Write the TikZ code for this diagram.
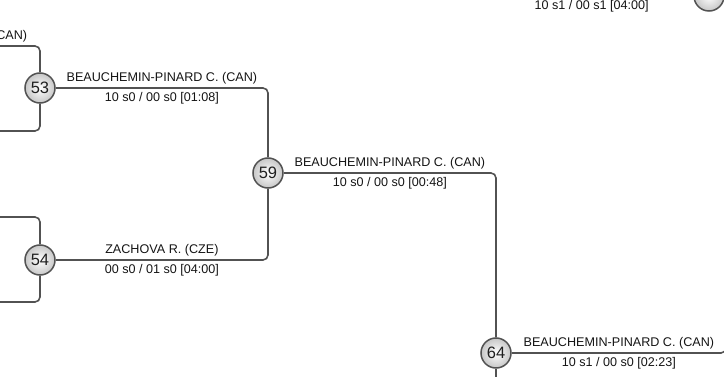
\documentclass[tikz,border=0pt]{standalone}
\usepackage{fontspec}
\setmainfont{Liberation Sans}
\usepackage{xcolor}
\usepackage{tikz}
\usetikzlibrary{calc}

\begin{document}
\begin{tikzpicture}[
  x=1pt, y=-1pt,
  match/.style={circle,draw=black!68,line width=1.5pt,shading=radial,
                inner color=white,outer color=black!22,minimum size=30pt,
                inner sep=0pt,text=black!88,font=\fontsize{16.5}{16.5}\selectfont},
  lbl/.style={font=\fontsize{12.6}{12.6}\selectfont,text=black!92,inner sep=3.5pt},
  wire/.style={line width=1.6pt,draw=black!68,rounded corners=5pt},
]
\useasboundingbox (0,0) rectangle (724,377);
\clip (0,0) rectangle (724,377);

\node[match] (m53) at (40,88)  {53};
\node[match] (m54) at (40,260) {54};
\node[match] (m59) at (268,173) {59};
\node[match] (m64) at (496,353) {64};
\node[match] (m65) at (709,-4) {};

\coordinate (f53a) at (-176,46);
\coordinate (f53b) at (-176,131);
\coordinate (f54a) at (-176,217);
\coordinate (f54b) at (-176,302);
\coordinate (f64a) at (496,400);
\coordinate (f64b) at (726,-30);
\coordinate (f65)  at (490,-4);

\draw[wire] (f53a) -| node[lbl,above,pos=.25]{BEAUCHEMIN-PINARD C. (CAN)} (m53.north);
\draw[wire] (m53.south) |- (f53b);
\draw[wire] (f54a) -| (m54.north);
\draw[wire] (m54.south) |- (f54b);

\draw[wire] (m53.east) -| node[lbl,above,pos=.25]{BEAUCHEMIN-PINARD C. (CAN)}
  node[lbl,below,pos=.25]{10 s0 / 00 s0 [01:08]} (m59.north);
\draw[wire] (m54.east) -| node[lbl,above,pos=.25]{ZACHOVA R. (CZE)}
  node[lbl,below,pos=.25]{00 s0 / 01 s0 [04:00]} (m59.south);
\draw[wire] (m59.east) -| node[lbl,above,pos=.25]{BEAUCHEMIN-PINARD C. (CAN)}
  node[lbl,below,pos=.25]{10 s0 / 00 s0 [00:48]} (m64.north);
\draw[wire] (m64.south) -- (f64a);
\draw[wire] (m64.east) -| node[lbl,above,pos=.25]{BEAUCHEMIN-PINARD C. (CAN)}
  node[lbl,below,pos=.25]{10 s1 / 00 s0 [02:23]} (f64b);
\draw[wire] (m65.west) -- node[lbl,below]{10 s1 / 00 s1 [04:00]} (f65);
\end{tikzpicture}
\end{document}
